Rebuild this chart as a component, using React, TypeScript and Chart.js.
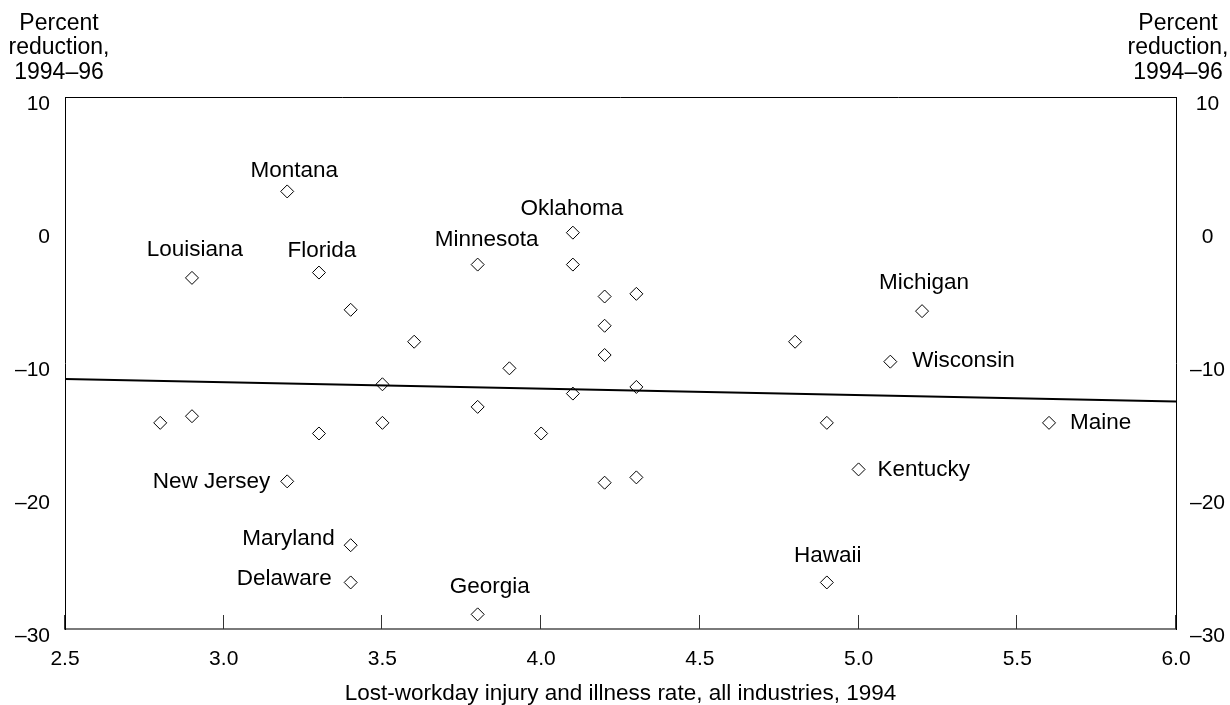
import { useEffect, useRef } from "react";
import { Chart, registerables } from "chart.js";

Chart.register(...registerables);

// ---- Data ----
const stateNames = [
  "Montana", "Louisiana", "Florida", "Minnesota", "Oklahoma",
  "", "", "", "", "",
  "", "", "", "", "",
  "", "", "", "", "",
  "", "", "", "",
  "New Jersey", "Maryland", "Delaware", "Georgia", "Hawaii",
  "", "Michigan", "Wisconsin", "", "Kentucky", "Maine",
];
const injuryRate1994 = [
  3.2, 2.9, 3.3, 3.8, 4.1,
  4.1, 4.2, 4.3, 4.2, 4.2,
  3.4, 3.6, 3.9, 3.5, 4.1,
  4.3, 3.8, 2.8, 2.9, 3.3,
  3.5, 4.0, 4.2, 4.3,
  3.2, 3.4, 3.4, 3.8, 4.9,
  4.8, 5.2, 5.1, 4.9, 5.0, 5.6,
];
const percentReduction = [
  2.9, -3.6, -3.2, -2.6, -0.2,
  -2.6, -5.0, -4.8, -7.2, -9.4,
  -6.0, -8.4, -10.4, -11.6, -12.3,
  -11.8, -13.3, -14.5, -14.0, -15.3,
  -14.5, -15.3, -19.0, -18.6,
  -18.9, -23.7, -26.5, -28.9, -26.5,
  -8.4, -6.1, -9.9, -14.5, -18.0, -14.5,
];
const trendRate = [2.5, 6.0];
const trendReduction = [-11.2, -12.9];

const xAxisMin = 2.5;
const xAxisMax = 6.0;
const xAxisStep = 0.5;
const yAxisMin = -30;
const yAxisMax = 10;
const yAxisStep = 10;

const xAxisTitle = "Lost-workday injury and illness rate, all industries, 1994";
const yAxisTitleLines = ["Percent", "reduction,", "1994\u201396"];

// ---- Label placement (style, not data) ----
type Placement = { side: "above" | "left" | "right"; dx: number; dy: number };
const labelPlacement: Record<string, Placement> = {
  Montana: { side: "above", dx: 7, dy: -21 },
  Louisiana: { side: "above", dx: 3, dy: -28 },
  Florida: { side: "above", dx: 3, dy: -22 },
  Minnesota: { side: "above", dx: 9, dy: -25 },
  Oklahoma: { side: "above", dx: -1, dy: -24 },
  Michigan: { side: "above", dx: 2, dy: -28 },
  Georgia: { side: "above", dx: 12, dy: -28 },
  Hawaii: { side: "above", dx: 1, dy: -27 },
  "New Jersey": { side: "left", dx: 17, dy: 0 },
  Maryland: { side: "left", dx: 16, dy: -6 },
  Delaware: { side: "left", dx: 19, dy: -4 },
  Wisconsin: { side: "right", dx: 22, dy: -1 },
  Kentucky: { side: "right", dx: 19, dy: 0 },
  Maine: { side: "right", dx: 21, dy: 0 },
};

const FONT = "'Liberation Sans', Arial, Helvetica, sans-serif";

const fmtY = (v: number) => (v < 0 ? "\u2013" + Math.abs(v) : String(v));

const framePlugin = {
  id: "frameAndTicks",
  afterDraw(chart: any) {
    const { ctx, chartArea } = chart;
    const xs = chart.scales.x;
    ctx.save();
    // top border
    ctx.strokeStyle = "#000";
    ctx.lineWidth = 1;
    ctx.beginPath();
    ctx.moveTo(chartArea.left, chartArea.top + 0.5);
    ctx.lineTo(chartArea.right, chartArea.top + 0.5);
    ctx.stroke();
    // inward tick marks on x axis
    ctx.strokeStyle = "#333";
    ctx.beginPath();
    xs.ticks.forEach((t: any) => {
      const px = Math.round(xs.getPixelForValue(t.value)) - 0.5;
      ctx.moveTo(px, chartArea.bottom);
      ctx.lineTo(px, chartArea.bottom - 14);
    });
    ctx.stroke();
    // y-axis titles (horizontal, above axes)
    ctx.fillStyle = "#000";
    ctx.font = `23px ${FONT}`;
    ctx.textAlign = "center";
    ctx.textBaseline = "alphabetic";
    const baselines = [-67, -43, -18];
    yAxisTitleLines.forEach((line, i) => {
      ctx.fillText(line, chartArea.left - 6, chartArea.top + baselines[i]);
      ctx.fillText(line, chartArea.right + 2, chartArea.top + baselines[i]);
    });
    ctx.restore();
  },
};

const labelPlugin = {
  id: "stateLabels",
  afterDatasetsDraw(chart: any) {
    const meta = chart.getDatasetMeta(1);
    const ctx = chart.ctx;
    ctx.save();
    ctx.font = `22.5px ${FONT}`;
    ctx.fillStyle = "#000";
    ctx.textBaseline = "middle";
    meta.data.forEach((el: any, i: number) => {
      const name = stateNames[i];
      if (!name) return;
      const p = labelPlacement[name];
      if (!p) return;
      let x = el.x;
      const y = el.y + p.dy;
      if (p.side === "above") {
        ctx.textAlign = "center";
        x = el.x + p.dx;
      } else if (p.side === "left") {
        ctx.textAlign = "right";
        x = el.x - p.dx;
      } else {
        ctx.textAlign = "left";
        x = el.x + p.dx;
      }
      ctx.fillText(name, x, y);
    });
    ctx.restore();
  },
};

export default function App() {
  const canvasRef = useRef<HTMLCanvasElement | null>(null);

  useEffect(() => {
    document.body.style.margin = "0";
    const canvas = canvasRef.current;
    if (!canvas) return;

    const points = injuryRate1994.map((x, i) => ({ x, y: percentReduction[i] }));
    const trend = trendRate.map((x, i) => ({ x, y: trendReduction[i] }));

    const chart = new Chart(canvas, {
      type: "scatter",
      data: {
        datasets: [
          {
            type: "line",
            data: trend,
            borderColor: "#000",
            borderWidth: 2,
            pointRadius: 0,
            fill: false,
            tension: 0,
          } as any,
          {
            data: points,
            pointStyle: "rectRot",
            pointRadius: 6.5,
            pointBackgroundColor: "rgba(255,255,255,0)",
            pointBorderColor: "#000",
            pointBorderWidth: 1,
          },
        ],
      },
      options: {
        animation: false,
        responsive: true,
        maintainAspectRatio: false,
        events: [],
        layout: { padding: { top: 97, left: 0, right: 0, bottom: 0 } },
        plugins: {
          legend: { display: false },
          tooltip: { enabled: false },
        },
        scales: {
          x: {
            type: "linear",
            position: "bottom",
            min: xAxisMin,
            max: xAxisMax,
            grid: { display: false, drawTicks: false },
            border: { display: true, color: "#7a7a7a", width: 2 },
            ticks: {
              stepSize: xAxisStep,
              padding: 18,
              color: "#000",
              font: { family: FONT, size: 21 },
              maxRotation: 0,
              callback: (v: any) => Number(v).toFixed(1),
            },
            title: {
              display: true,
              text: xAxisTitle,
              color: "#000",
              font: { family: FONT, size: 22.5 },
              padding: { top: 0, bottom: -2 },
            },
            afterFit: (s: any) => {
              s.height = 76;
            },
          },
          y: {
            type: "linear",
            position: "left",
            min: yAxisMin,
            max: yAxisMax,
            grid: { display: false, drawTicks: false },
            border: { display: true, color: "#000", width: 1 },
            ticks: {
              stepSize: yAxisStep,
              padding: 15,
              labelOffset: 7,
              color: "#000",
              font: { family: FONT, size: 21 },
              callback: (v: any) => fmtY(Number(v)),
            },
            afterFit: (s: any) => {
              s.width = 65;
            },
          },
          y2: {
            type: "linear",
            position: "right",
            min: yAxisMin,
            max: yAxisMax,
            grid: { display: false, drawTicks: false },
            border: { display: true, color: "#000", width: 1 },
            ticks: {
              stepSize: yAxisStep,
              padding: 14,
              labelOffset: 7,
              crossAlign: "center",
              color: "#000",
              font: { family: FONT, size: 21 },
              callback: (v: any) => fmtY(Number(v)),
            },
            afterFit: (s: any) => {
              s.width = 54;
            },
          },
        },
      } as any,
      plugins: [framePlugin, labelPlugin],
    });

    return () => chart.destroy();
  }, []);

  return (
    <div style={{ width: 1230, height: 705, position: "relative" }}>
      <canvas ref={canvasRef} />
    </div>
  );
}
